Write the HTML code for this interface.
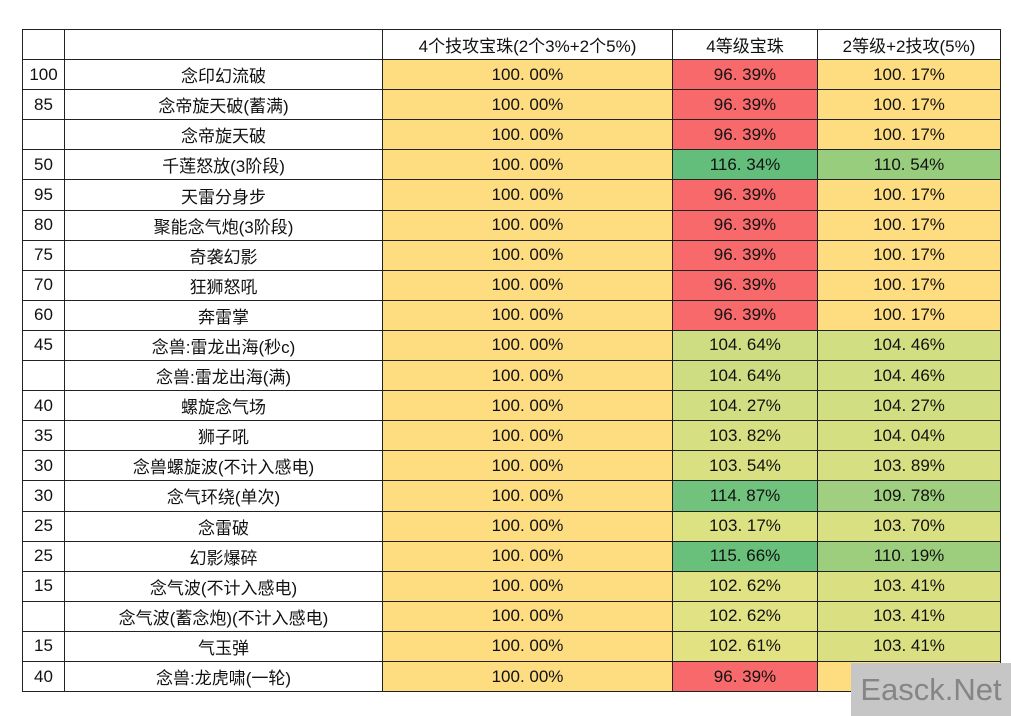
<!DOCTYPE html>
<html><head><meta charset="utf-8"><style>
body{margin:0;width:1011px;height:716px;background:#fff;overflow:hidden;position:relative;font-family:"Liberation Sans","Noto Sans CJK SC",sans-serif;}
table{position:absolute;left:22px;top:29px;border-collapse:collapse;font-size:17px;color:#111;}
td{border:1.5px solid #222;height:29.1px;padding:0;text-align:center;white-space:nowrap;}
#wm{position:absolute;left:851px;top:663px;width:160px;height:53px;background:#c6c6c6;color:#858585;font-size:31px;line-height:53px;text-align:center;}
</style></head><body>
<table id="tbl">
<colgroup><col style="width:42px"><col style="width:318px"><col style="width:290px"><col style="width:145px"><col style="width:183px"></colgroup>
<tr><td></td><td></td><td>4个技攻宝珠(2个3%+2个5%)</td><td>4等级宝珠</td><td>2等级+2技攻(5%)</td></tr>
</table>
<div id="wm">Easck.Net</div>
<script>
const levels=["100","85","","50","95","80","75","70","60","45","","40","35","30","30","25","25","15","","15","40"];
const skills=["念印幻流破","念帝旋天破(蓄满)","念帝旋天破","千莲怒放(3阶段)","天雷分身步","聚能念气炮(3阶段)","奇袭幻影","狂狮怒吼","奔雷掌","念兽:雷龙出海(秒c)","念兽:雷龙出海(满)","螺旋念气场","狮子吼","念兽螺旋波(不计入感电)","念气环绕(单次)","念雷破","幻影爆碎","念气波(不计入感电)","念气波(蓄念炮)(不计入感电)","气玉弹","念兽:龙虎啸(一轮)"];
const skillGems=[100,100,100,100,100,100,100,100,100,100,100,100,100,100,100,100,100,100,100,100,100];
const levelGems=[96.39,96.39,96.39,116.34,96.39,96.39,96.39,96.39,96.39,104.64,104.64,104.27,103.82,103.54,114.87,103.17,115.66,102.62,102.62,102.61,96.39];
const mixedGems=[100.17,100.17,100.17,110.54,100.17,100.17,100.17,100.17,100.17,104.46,104.46,104.27,104.04,103.89,109.78,103.70,110.19,103.41,103.41,103.41,100.17];
function mix(a,b,t){return 'rgb('+a.map((v,i)=>Math.round(v+(b[i]-v)*t)).join(',')+')';}
function color(v){
  const red=[248,105,107],yel=[254,221,128],yg=[245,232,132],grn=[99,190,123];
  if(v<99.5)return mix(red,yel,Math.max(0,(v-96.39)/3.61));
  if(v<=100.5)return mix(yel,yel,0);
  return mix(yg,grn,Math.min(1,(v-100.5)/15.84));
}
const tbl=document.getElementById('tbl');
for(let i=0;i<skills.length;i++){
  const tr=document.createElement('tr');
  
  
  const c=[levels[i],skills[i],skillGems[i].toFixed(2).replace('.','. ')+'%',levelGems[i].toFixed(2).replace('.','. ')+'%',mixedGems[i].toFixed(2).replace('.','. ')+'%'];
  const vals=[null,null,skillGems[i],levelGems[i],mixedGems[i]];
  const names=['level-cell','skill-name-cell','skill-gems-cell','level-gems-cell','mixed-gems-cell'];
  for(let j=0;j<5;j++){
    const td=document.createElement('td');
    
    
    td.textContent=c[j];
    if(vals[j]!==null)td.style.background=color(vals[j]);
    tr.appendChild(td);
  }
  tbl.appendChild(tr);
}
</script>
</body></html>
